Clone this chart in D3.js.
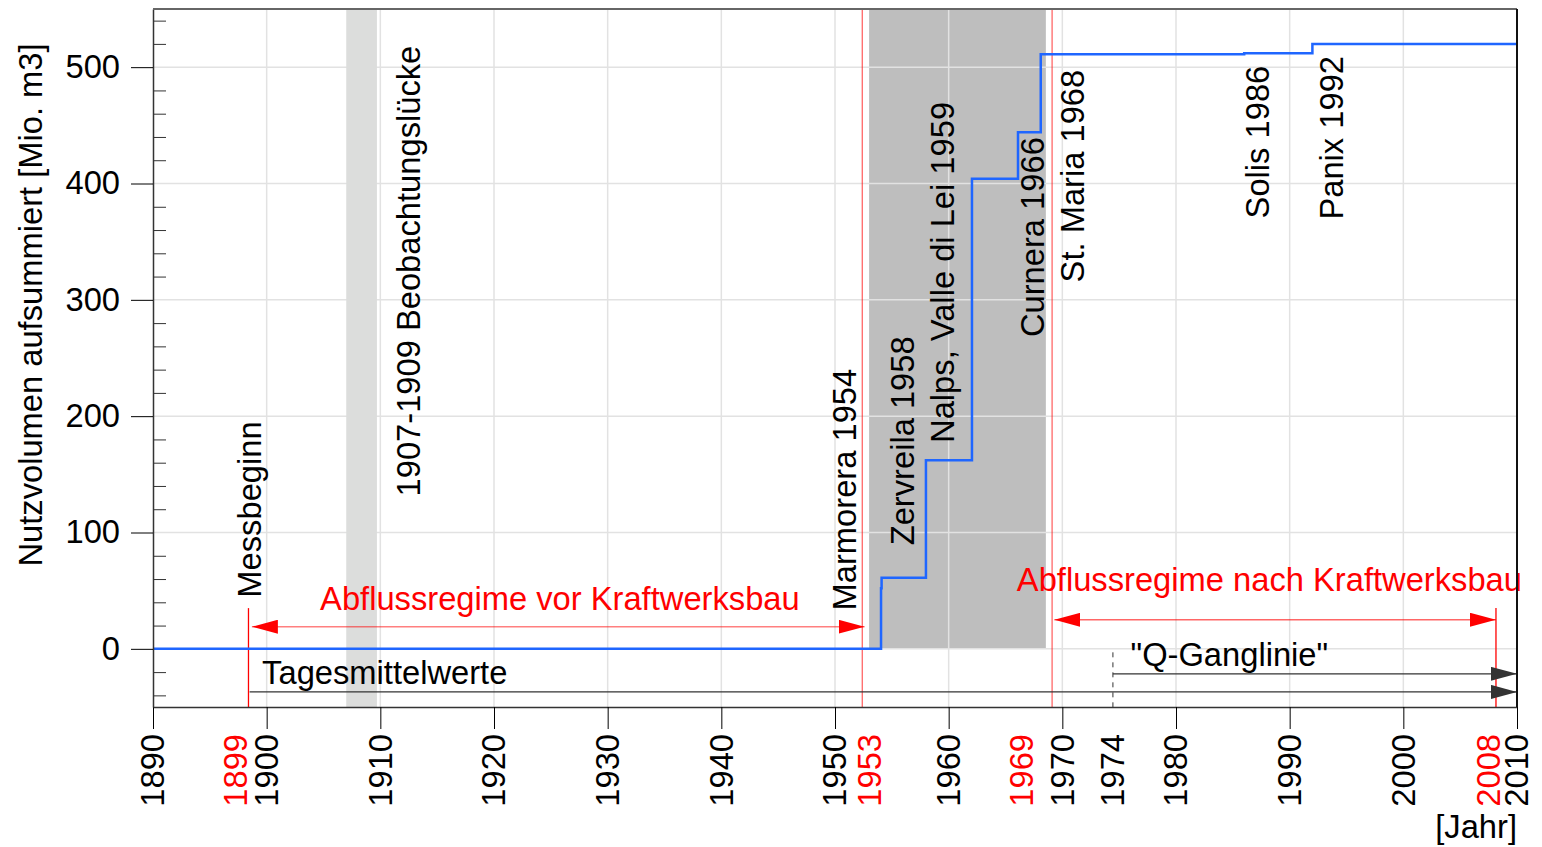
<!DOCTYPE html>
<html>
<head>
<meta charset="utf-8">
<script src="https://cdn.jsdelivr.net/npm/d3@7"></script>
<style>
  body { margin: 0; background: #fff; }
  svg { font-family: "Liberation Sans", Arial, sans-serif; }
  text { font-size: 32.7px; }
</style>
</head>
<body>
<svg id="chart"></svg>
<script>
// step series: cumulated usable volume of the reservoirs
const years = [1890, 1954.05, 1954.1, 1958.0, 1962.05, 1966.1, 1968.1, 1986.0, 1992.0, 2010];
const volume = [0, 52, 61, 162, 404, 444, 511, 512, 520, 520];

const yearTicks = [1890, 1900, 1910, 1920, 1930, 1940, 1950, 1960, 1970, 1980, 1990, 2000, 2010];
const volumeTicks = [0, 100, 200, 300, 400, 500];
// extra year labels (label, year where it is drawn, colour)
const extraLabels = ["1899", "1953", "1969", "1974", "2008"];
const extraLabelYears = [1897.3, 1953.0, 1966.45, 1974.45, 2007.5];
const extraLabelColors = ["red", "red", "red", "black", "red"];

const gapYears = [1907.0, 1909.7];
const buildYears = [1953.0, 1968.55];
const redLineYears = [1898.4, 1952.4, 1969.1, 2008.15];
const redLineTop = [35, 550, 550, 35];

// dam annotations (rotated), year = centre of text, value = text start
const dams = ["Messbeginn", "1907-1909 Beobachtungslücke", "Marmorera 1954", "Zervreila 1958",
  "Nalps, Valle di Lei 1959", "Curnera 1966", "St. Maria 1968", "Solis 1986", "Panix 1992"];
const damYears = [1898.5, 1912.5, 1950.8, 1955.9, 1959.5, 1967.4, 1970.9, 1987.2, 1993.7];
const damValues = [44, 131, 33, 89, 177, 268, 315, 370, 369];

let w = 1542;
let h = 847;
let margin = { left: 153, top: 9, right: 25, bottom: 140 };
let width = w - margin.left - margin.right,
  height = h - margin.top - margin.bottom;

let svg = d3.select("#chart").attr("width", w).attr("height", h);
let g = svg.append("g").attr("transform", "translate(" + margin.left + "," + margin.top + ")");

let x = d3.scaleLinear().domain([1890, 2010]).range([0, width]);
let y = d3.scaleLinear().domain([-50, 550]).range([height, 0]);

// markers for arrows
let defs = svg.append("defs");
function marker(id, color, reverse) {
  defs.append("marker")
    .attr("id", id)
    .attr("markerUnits", "userSpaceOnUse")
    .attr("viewBox", "0 0 26 14")
    .attr("refX", reverse ? 0 : 26)
    .attr("refY", 7)
    .attr("markerWidth", 26)
    .attr("markerHeight", 14)
    .attr("orient", "auto")
    .append("path")
    .attr("d", reverse ? "M0,7L26,0L26,14Z" : "M0,0L26,7L0,14Z")
    .attr("fill", color);
}
marker("redEnd", "#ff0000", false);
marker("redStart", "#ff0000", true);
marker("blackEnd", "#333", false);

// dark shading: building period
g.append("rect")
  .attr("x", x(buildYears[0]))
  .attr("y", y(550))
  .attr("width", x(buildYears[1]) - x(buildYears[0]))
  .attr("height", y(0) - y(550))
  .attr("fill", "#bebebe");

// grid
g.selectAll(".vgrid")
  .data(yearTicks.slice(1, -1))
  .enter()
  .append("line")
  .attr("x1", d => x(d)).attr("x2", d => x(d))
  .attr("y1", 0).attr("y2", height)
  .attr("stroke", "#e2e2e2")
  .attr("stroke-width", 1.5);
g.selectAll(".hgrid")
  .data(volumeTicks)
  .enter()
  .append("line")
  .attr("x1", 0).attr("x2", width)
  .attr("y1", d => y(d)).attr("y2", d => y(d))
  .attr("stroke", "#e2e2e2")
  .attr("stroke-width", 1.5);

// observation gap
g.append("rect")
  .attr("x", x(gapYears[0]))
  .attr("y", 0)
  .attr("width", x(gapYears[1]) - x(gapYears[0]))
  .attr("height", height)
  .attr("fill", "#dcdddc");

// red vertical lines
g.selectAll(".redline")
  .data(redLineYears)
  .enter()
  .append("line")
  .attr("x1", d => x(d)).attr("x2", d => x(d))
  .attr("y1", (d, i) => y(redLineTop[i]))
  .attr("y2", height)
  .attr("stroke", "#ff0000")
  .attr("stroke-opacity", (d, i) => (i == 1 || i == 2) ? 0.6 : 1)
  .attr("stroke-width", 1.3);

// dashed start of Q-Ganglinie
g.append("line")
  .attr("x1", x(1974.45)).attr("x2", x(1974.45))
  .attr("y1", y(-3)).attr("y2", y(-50))
  .attr("stroke", "#333")
  .attr("stroke-width", 1)
  .attr("stroke-dasharray", "5,5");

// arrows
function arrow(x1, x2, v, color, opacity, startMarker, endMarker) {
  let l = g.append("line")
    .attr("x1", x(x1)).attr("x2", x(x2))
    .attr("y1", y(v)).attr("y2", y(v))
    .attr("stroke", color)
    .attr("stroke-opacity", opacity)
    .attr("stroke-width", 1.3);
  if (startMarker) l.attr("marker-start", "url(#" + startMarker + ")");
  if (endMarker) l.attr("marker-end", "url(#" + endMarker + ")");
}
arrow(1898.7, 1952.6, 19, "#ff0000", 0.5, "redStart", "redEnd");
arrow(1969.3, 2008.15, 25, "#ff0000", 0.6, "redStart", "redEnd");
arrow(1898.5, 2010, -37, "#333", 1, null, "blackEnd");
arrow(1974.45, 2010, -21.5, "#333", 1, null, "blackEnd");

// step line
let series = years.map((d, i) => ({ year: d, v: volume[i] }));
g.append("path")
  .datum(series)
  .attr("fill", "none")
  .attr("stroke", "#1f66ff")
  .attr("stroke-width", 2.5)
  .attr("d", d3.line().x(d => x(d.year)).y(d => y(d.v)).curve(d3.curveStepAfter));

// rotated annotations
g.selectAll(".dam")
  .data(dams)
  .enter()
  .append("text")
  .attr("transform", (d, i) => "translate(" + x(damYears[i]) + "," + y(damValues[i]) + ") rotate(-90)")
  .attr("dy", "0.35em")
  .attr("fill", "#000")
  .text(d => d);

// horizontal annotations
g.append("text").attr("x", x(1904.7)).attr("y", y(33.5)).attr("fill", "red")
  .text("Abflussregime vor Kraftwerksbau");
g.append("text").attr("x", x(1966.0)).attr("y", y(50)).attr("fill", "red")
  .text("Abflussregime nach Kraftwerksbau");
g.append("text").attr("x", x(1899.6)).attr("y", y(-30.5))
  .text("Tagesmittelwerte");
g.append("text").attr("x", x(1976.0)).attr("y", y(-15))
  .text("\"Q-Ganglinie\"");

// axes
let xAxis = g.append("g")
  .attr("transform", "translate(0," + height + ")")
  .call(d3.axisBottom(x).tickValues(yearTicks).tickSize(22).tickSizeOuter(0).tickFormat(""));
xAxis.select(".domain").attr("stroke", "#333").attr("stroke-width", 1.5);

g.append("g")
  .call(d3.axisRight(y).tickValues(d3.range(-40, 550, 20).filter(d => d % 100 != 0)).tickSize(13).tickFormat(""))
  .call(a => a.select(".domain").remove())
  .selectAll("line").attr("stroke", "#333");

let yAxis = g.append("g")
  .call(d3.axisLeft(y).tickValues(volumeTicks).tickSize(22).tickSizeOuter(0).tickPadding(11));
yAxis.select(".domain").attr("stroke", "#333").attr("stroke-width", 1.5);
yAxis.selectAll("text").attr("font-size", 32.7).attr("font-family", "Liberation Sans, Arial, sans-serif").attr("fill", "#000");

// frame top and right
g.append("line").attr("x1", 0).attr("x2", width).attr("y1", 0).attr("y2", 0)
  .attr("stroke", "#666").attr("stroke-width", 2);
g.append("line").attr("x1", width).attr("x2", width).attr("y1", 0).attr("y2", height)
  .attr("stroke", "#111").attr("stroke-width", 2);

// x tick labels (rotated)
g.selectAll(".xlab")
  .data(yearTicks)
  .enter()
  .append("text")
  .attr("transform", d => "translate(" + x(d) + "," + (height + 27) + ") rotate(-90)")
  .attr("dy", "0.35em")
  .attr("text-anchor", "end")
  .text(d => d);
g.selectAll(".xlab2")
  .data(extraLabels)
  .enter()
  .append("text")
  .attr("transform", (d, i) => "translate(" + x(extraLabelYears[i]) + "," + (height + 27) + ") rotate(-90)")
  .attr("dy", "0.35em")
  .attr("text-anchor", "end")
  .attr("fill", (d, i) => extraLabelColors[i])
  .text(d => d);

svg.append("text")
  .attr("x", margin.left + width)
  .attr("y", 838)
  .attr("text-anchor", "end")
  .text("[Jahr]");

// y axis title
svg.append("text")
  .attr("transform", "translate(31," + 305 + ") rotate(-90)")
  .attr("dy", "0.35em")
  .attr("text-anchor", "middle")
  .text("Nutzvolumen aufsummiert [Mio. m3]");
</script>
</body>
</html>
